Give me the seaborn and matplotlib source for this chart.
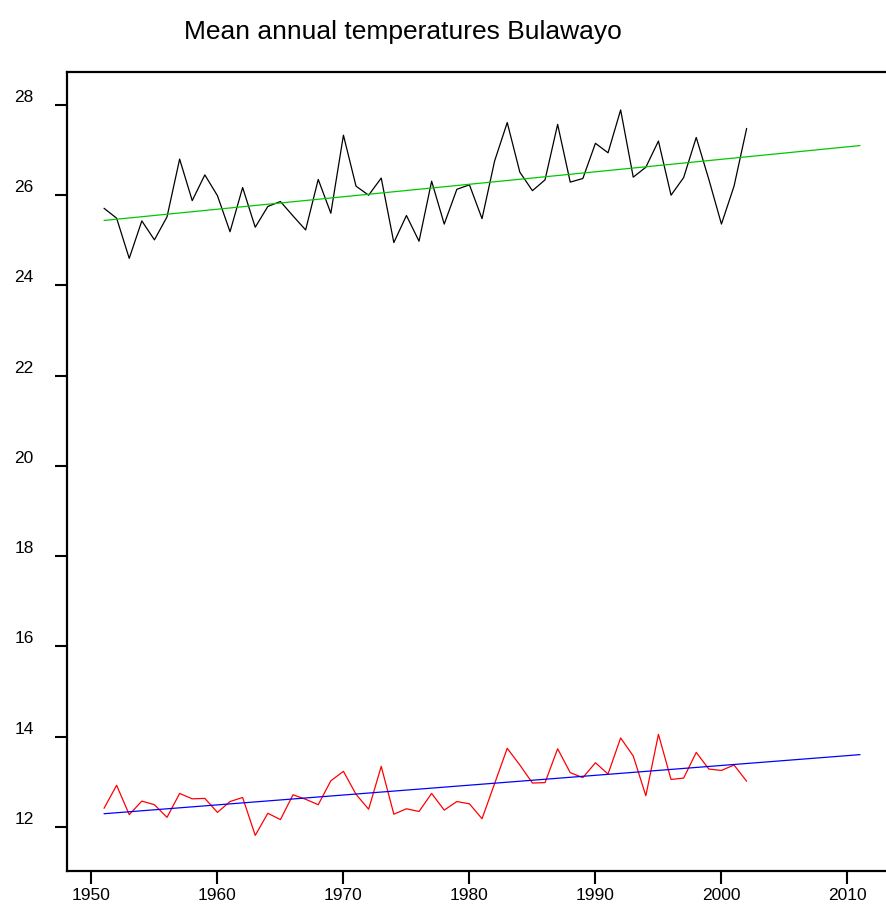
import numpy as np
import matplotlib
matplotlib.use("Agg")
import matplotlib.pyplot as plt
import seaborn as sns

years = list(range(1951, 2003))

# mean annual maximum temperature (black)
tmax = [25.71, 25.49, 24.60, 25.43, 25.01, 25.52, 26.80, 25.88, 26.45, 25.99,
        25.19, 26.17, 25.29, 25.75, 25.86, 25.54, 25.23, 26.35, 25.60, 27.33,
        26.20, 26.00, 26.38, 24.95, 25.55, 24.98, 26.31, 25.36, 26.13, 26.23,
        25.48, 26.76, 27.61, 26.51, 26.10, 26.34, 27.57, 26.29, 26.37, 27.15,
        26.94, 27.89, 26.40, 26.62, 27.20, 26.00, 26.39, 27.28, 26.35, 25.36,
        26.20, 27.48]

# mean annual minimum temperature (red)
tmin = [12.41, 12.92, 12.27, 12.57, 12.49, 12.21, 12.74, 12.62, 12.63, 12.32,
        12.56, 12.65, 11.81, 12.30, 12.16, 12.71, 12.61, 12.49, 13.02, 13.23,
        12.72, 12.39, 13.34, 12.28, 12.40, 12.34, 12.74, 12.37, 12.56, 12.51,
        12.18, 12.96, 13.74, 13.37, 12.97, 12.98, 13.73, 13.20, 13.09, 13.42,
        13.17, 13.97, 13.57, 12.69, 14.05, 13.05, 13.08, 13.65, 13.28, 13.25,
        13.37, 13.01]

# linear trend lines, read at their ends
trend_years = [1951, 2011]
tmax_trend = [25.44, 27.10]
tmin_trend = [12.29, 13.60]

xticks = [1950, 1960, 1970, 1980, 1990, 2000, 2010]
yticks = [12, 14, 16, 18, 20, 22, 24, 26, 28]
title = "Mean annual temperatures Bulawayo"

sns.set_style("ticks")
plt.rcParams['font.family'] = ['Liberation Sans Narrow', 'Liberation Sans', 'DejaVu Sans']

fig = plt.figure(figsize=(8.86, 9.06), dpi=100)
ax = fig.add_axes([0.0756, 0.0386, 0.9244, 0.8819])

sns.lineplot(x=years, y=tmax, color='black', lw=0.9, ax=ax)
sns.lineplot(x=trend_years, y=tmax_trend, color='#00C800', lw=0.9, ax=ax)
sns.lineplot(x=years, y=tmin, color='#FF0000', lw=0.9, ax=ax)
sns.lineplot(x=trend_years, y=tmin_trend, color='#0000FF', lw=0.9, ax=ax)

ax.set_xlim(1948.06, 2013.06)
ax.set_ylim(11.02, 28.73)
ax.set_xticks(xticks)
ax.set_yticks(yticks)
ax.set_xticklabels([str(v) for v in xticks])
ax.set_yticklabels([str(v) for v in yticks])

for side in ['left', 'bottom', 'top']:
    ax.spines[side].set_linewidth(1.6)
    ax.spines[side].set_color('black')
ax.spines['right'].set_visible(False)

ax.tick_params(axis='both', direction='out', length=9, width=1.5, color='black',
               labelsize=12.5, labelcolor='black')
ax.tick_params(axis='x', pad=3)
ax.tick_params(axis='y', pad=15)
for lab in ax.get_yticklabels():
    lab.set_va('bottom')

fig.text(0.455, 0.965, title, ha='center', va='center', fontsize=19, color='black')

fig.savefig('out.png', dpi=100)
